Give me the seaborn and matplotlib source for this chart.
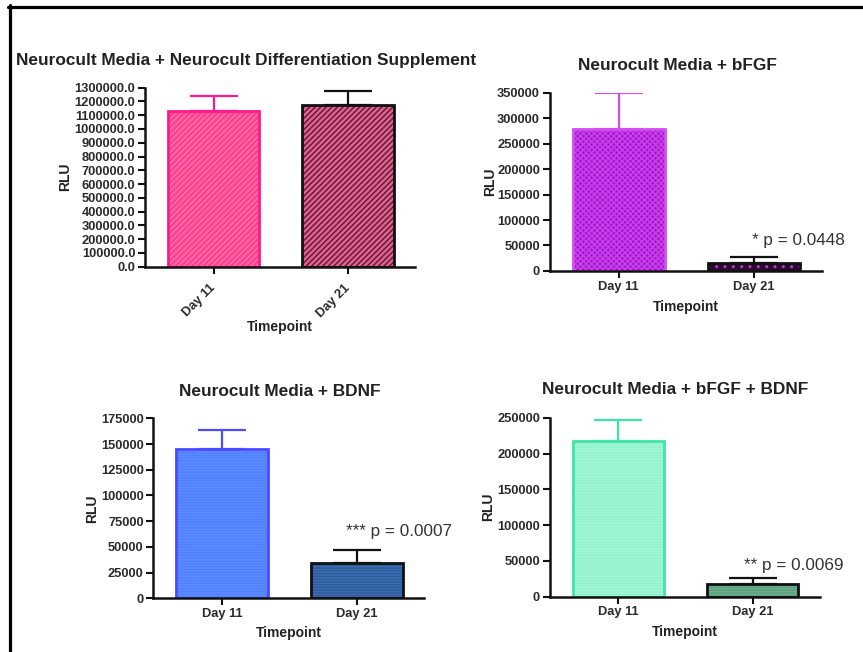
import numpy as np
import pandas as pd
import matplotlib
matplotlib.use("Agg")
import matplotlib.pyplot as plt
import seaborn as sns
from matplotlib.lines import Line2D

# ---------------- data ----------------
days = ["Day 11", "Day 21"]

title_diff = "Neurocult Media + Neurocult Differentiation Supplement"
mean_diff = [1133000, 1174000]
sem_diff = [109000, 102000]

title_bfgf = "Neurocult Media + bFGF"
mean_bfgf = [278000, 15000]
sem_bfgf = [71000, 12500]

title_bdnf = "Neurocult Media + BDNF"
mean_bdnf = [145500, 34700]
sem_bdnf = [18100, 12300]

title_both = "Neurocult Media + bFGF + BDNF"
mean_both = [217400, 17200]
sem_both = [29400, 8400]

p_bfgf = "* p = 0.0448"
p_bdnf = "*** p = 0.0007"
p_both = "** p = 0.0069"

yticks_diff = list(range(0, 1300001, 100000))
yticks_bfgf = list(range(0, 350001, 50000))
yticks_bdnf = list(range(0, 175001, 25000))
yticks_both = list(range(0, 250001, 50000))

# ---------------- style ----------------
sns.set_style("ticks")
plt.rcParams["font.family"] = ["Liberation Sans", "DejaVu Sans"]
plt.rcParams["hatch.linewidth"] = 1.0

fig = plt.figure(figsize=(8.63, 6.52), dpi=100)

panels = [
    dict(title=title_diff, means=mean_diff, sems=sem_diff, yticks=yticks_diff, fmt="{:.1f}",
         pos=[0.168, 0.591, 0.313, 0.2745], rot=True,
         fills=["#FF3F8F", "#E2608F"], hatch=["//////", "//////"], hcol=["#FF78AC", "#5A1832"],
         edges=["#FF1A8A", "#111111"], tpos=(246.5, 60.5),
         ylab=-0.27, xlab=-0.30, ptxt=None),
    dict(title=title_bfgf, means=mean_bfgf, sems=sem_bfgf, yticks=yticks_bfgf, fmt="{:.0f}",
         pos=[0.637, 0.5844, 0.315, 0.2735], rot=False,
         fills=["#B010D6", "#2A0A31"], hatch=["xxxxxx", ".."], hcol=["#C245E6", "#B53AD6"],
         edges=["#D24CF0", "#111111"], tpos=(677, 65),
         ylab=-0.195, xlab=-0.163, ptxt=(p_bfgf, 0.985, 58900)),
    dict(title=title_bdnf, means=mean_bdnf, sems=sem_bdnf, yticks=yticks_bdnf, fmt="{:.0f}",
         pos=[0.1777, 0.0824, 0.3137, 0.276], rot=False,
         fills=["#4F80FF", "#3B6EB6"], hatch=["------", "------"], hcol=["#5E8BFF", "#2E5A98"],
         edges=["#4B4BFF", "#111111"], tpos=(279.5, 391.7),
         ylab=-0.20, xlab=-0.154, ptxt=(p_bdnf, 0.918, 64750)),
    dict(title=title_both, means=mean_both, sems=sem_both, yticks=yticks_both, fmt="{:.0f}",
         pos=[0.637, 0.0848, 0.313, 0.2745], rot=False,
         fills=["#92F2CD", "#6BAE8C"], hatch=["------", "------"], hcol=["#A2F5D5", "#5E9F7E"],
         edges=["#3DE6A6", "#111111"], tpos=(675, 390),
         ylab=-0.204, xlab=-0.156, ptxt=(p_both, 0.935, 42900)),
]

W, H = 863, 652
for P in panels:
    ax = fig.add_axes(P["pos"])
    df = pd.DataFrame({"Timepoint": days, "RLU": P["means"]})
    sns.barplot(data=df, x="Timepoint", y="RLU", hue="Timepoint", palette=P["fills"],
                width=0.68, ax=ax, legend=False, errorbar=None, saturation=1, linewidth=0)
    for patch, h, hc in zip(ax.patches, P["hatch"], P["hcol"]):
        patch.set_hatch(h)
        patch.set_edgecolor(hc)
        patch.set_linewidth(0)
    sns.barplot(data=df, x="Timepoint", y="RLU", hue="Timepoint", palette=P["edges"],
                width=0.68, ax=ax, legend=False, errorbar=None, saturation=1,
                fill=False, linewidth=2.0)
    for i, (m, s, c) in enumerate(zip(P["means"], P["sems"], P["edges"])):
        ax.errorbar(i, m, yerr=[[0], [s]], fmt="none", ecolor=c, elinewidth=1.6,
                    capsize=17, capthick=1.6, zorder=5)
    ax.set_xlim(-0.51, 1.5)
    ax.set_ylim(0, P["yticks"][-1])
    ax.set_yticks(P["yticks"])
    ax.set_yticklabels([P["fmt"].format(v) for v in P["yticks"]])
    sns.despine(ax=ax)
    for sp in ["left", "bottom"]:
        ax.spines[sp].set_linewidth(1.8)
        ax.spines[sp].set_color("#111111")
    ax.tick_params(axis="both", length=5, width=1.5, color="#111111",
                   labelsize=9.3, labelcolor="#2a2a2a", pad=2)
    for lab in ax.get_yticklabels() + ax.get_xticklabels():
        lab.set_fontweight("bold")
    if P["rot"]:
        for lab in ax.get_xticklabels():
            lab.set_rotation(45)
            lab.set_ha("right")
            lab.set_va("center")
            lab.set_rotation_mode("anchor")
        ax.tick_params(axis="x", pad=9)
    ax.set_xlabel("Timepoint", fontsize=10, fontweight="bold", color="#222222")
    ax.set_ylabel("RLU", fontsize=10, fontweight="bold", color="#222222")
    ax.xaxis.set_label_coords(0.5, P["xlab"])
    ax.yaxis.set_label_coords(P["ylab"], 0.5)
    fig.text(P["tpos"][0] / W, 1 - P["tpos"][1] / H, P["title"], ha="center", va="center",
             fontsize=12.4, fontweight="bold", color="#222222")
    if P["ptxt"]:
        t, x, y = P["ptxt"]
        ax.text(x, y, t, ha="left", va="center", fontsize=12.3, color="#333333")

# figure frame (left and top)
fig.add_artist(Line2D([9.5 / W, 9.5 / W], [0, 1 - 5 / H], transform=fig.transFigure,
                      color="black", linewidth=2.3))
fig.add_artist(Line2D([8 / W, 1], [1 - 6.5 / H, 1 - 6.5 / H], transform=fig.transFigure,
                      color="black", linewidth=2.3))

fig.savefig("out.png", dpi=100)
